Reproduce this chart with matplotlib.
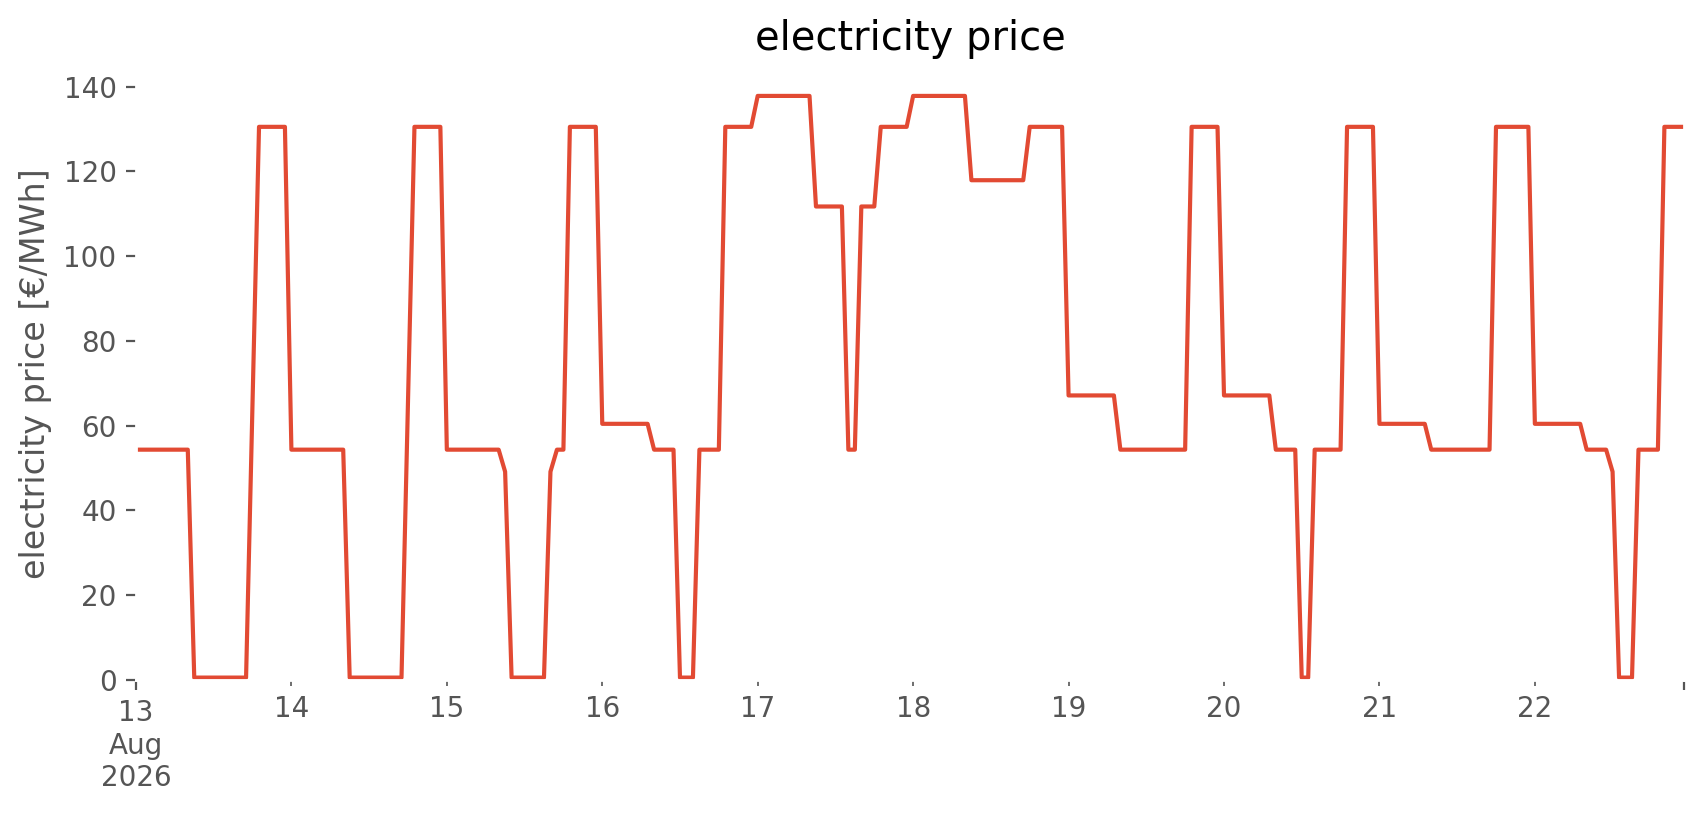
import numpy as np
import pandas as pd
import matplotlib
matplotlib.use("Agg")
import matplotlib.pyplot as plt

# hourly electricity price [€/MWh], one list per day
day13 = [54.3] * 9 + [0.5] * 9 + [65.5] + [130.5] * 5
day14 = [54.3] * 9 + [0.5] * 9 + [65.5] + [130.5] * 5
day15 = [54.3] * 9 + [49.1] + [0.5] * 6 + [49.1] + [54.3] * 2 + [130.5] * 5
day16 = [60.4] * 8 + [54.3] * 4 + [0.5] * 3 + [54.3] * 4 + [130.5] * 5
day17 = [137.8] * 9 + [111.7] * 5 + [54.3] * 2 + [111.7] * 3 + [130.5] * 5
day18 = [137.8] * 9 + [117.9] * 9 + [130.5] * 6
day19 = [67.1] * 8 + [54.3] * 11 + [130.5] * 5
day20 = [67.1] * 8 + [54.3] * 4 + [0.5] * 2 + [54.3] * 5 + [130.5] * 5
day21 = [60.4] * 8 + [54.3] * 10 + [130.5] * 6
day22 = [60.4] * 8 + [54.3] * 4 + [49.1] + [0.5] * 3 + [54.3] * 4 + [130.5] * 4

prices = (day13 + day14 + day15 + day16 + day17 + day18 + day19 + day20
          + day21 + day22)
index = pd.date_range("2026-08-13 00:00", periods=len(prices), freq="h")
price = pd.Series(prices, index=index, name="electricity price")

plt.style.use("ggplot")

fig = plt.figure(figsize=(8.53, 4.075), dpi=200)
ax = fig.add_axes([0.0797, 0.1660, 0.9073, 0.7520])
ax.set_facecolor("white")
ax.grid(False)

price.plot(ax=ax, lw=1.5, color="#E24A33")
ax.set_ylim(bottom=0)
ax.set_xlabel("")
ax.set_ylabel("electricity price [€/MWh]")
ax.set_title("electricity price")

fig.savefig("out.png", dpi=200, facecolor="white")
